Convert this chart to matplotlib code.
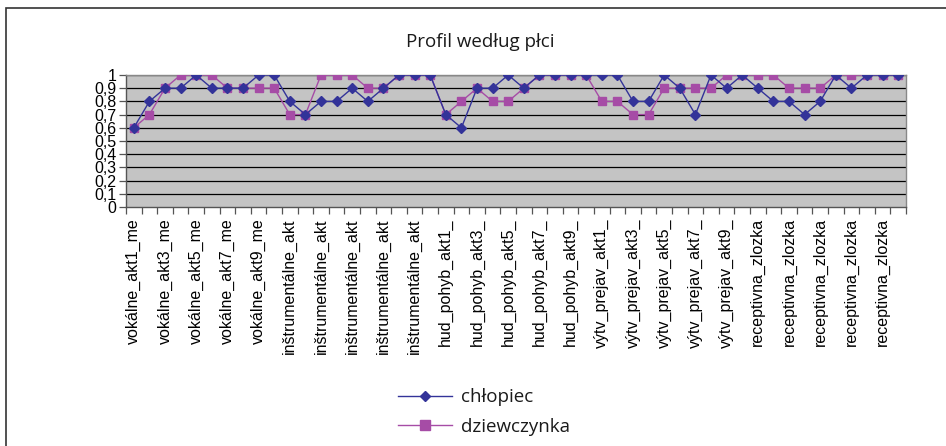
import matplotlib
matplotlib.use("Agg")
import matplotlib.pyplot as plt
from matplotlib.patches import Rectangle
from matplotlib.lines import Line2D
import numpy as np

title = "Profil według płci"
series_names = ["chłopiec", "dziewczynka"]

chlopiec = [0.6, 0.8, 0.9, 0.9, 1.0, 0.9, 0.9, 0.9, 1.0, 1.0,
            0.8, 0.7, 0.8, 0.8, 0.9, 0.8, 0.9, 1.0, 1.0, 1.0,
            0.7, 0.6, 0.9, 0.9, 1.0, 0.9, 1.0, 1.0, 1.0, 1.0,
            1.0, 1.0, 0.8, 0.8, 1.0, 0.9, 0.7, 1.0, 0.9, 1.0,
            0.9, 0.8, 0.8, 0.7, 0.8, 1.0, 0.9, 1.0, 1.0, 1.0]
dziewczynka = [0.6, 0.7, 0.9, 1.0, 1.0, 1.0, 0.9, 0.9, 0.9, 0.9,
               0.7, 0.7, 1.0, 1.0, 1.0, 0.9, 0.9, 1.0, 1.0, 1.0,
               0.7, 0.8, 0.9, 0.8, 0.8, 0.9, 1.0, 1.0, 1.0, 1.0,
               0.8, 0.8, 0.7, 0.7, 0.9, 0.9, 0.9, 0.9, 1.0, 1.0,
               1.0, 1.0, 0.9, 0.9, 0.9, 1.0, 1.0, 1.0, 1.0, 1.0]

tick_labels = ["vokálne_akt1_me", "vokálne_akt3_me", "vokálne_akt5_me", "vokálne_akt7_me", "vokálne_akt9_me",
               "inštrumentálne_akt", "inštrumentálne_akt", "inštrumentálne_akt", "inštrumentálne_akt", "inštrumentálne_akt",
               "hud_pohyb_akt1_", "hud_pohyb_akt3_", "hud_pohyb_akt5_", "hud_pohyb_akt7_", "hud_pohyb_akt9_",
               "výtv_prejav_akt1_", "výtv_prejav_akt3_", "výtv_prejav_akt5_", "výtv_prejav_akt7_", "výtv_prejav_akt9_",
               "receptivna_zlozka", "receptivna_zlozka", "receptivna_zlozka", "receptivna_zlozka", "receptivna_zlozka"]
y_ticks = [0, 0.1, 0.2, 0.3, 0.4, 0.5, 0.6, 0.7, 0.8, 0.9, 1.0]
y_tick_labels = ["0", "0,1", "0,2", "0,3", "0,4", "0,5", "0,6", "0,7", "0,8", "0,9", "1"]

W, H = 946, 446
fig = plt.figure(figsize=(W / 100, H / 100), dpi=100)
fig.patch.set_facecolor("white")

left, right, top, bottom = 126, 906, 75, 207
ax = fig.add_axes([left / W, 1 - bottom / H, (right - left) / W, (bottom - top) / H])
ax.set_facecolor("#C4C4C4")

n = len(chlopiec)
x = np.arange(n)
blue = "#333399"
pink = "#A64CA6"
ax.plot(x, chlopiec, color=blue, lw=1.0, marker="D", markersize=5.0, markeredgecolor=blue,
        markerfacecolor=blue, zorder=4, label=series_names[0])
ax.plot(x, dziewczynka, color=pink, lw=1.0, marker="s", markersize=6.0, markeredgecolor=pink,
        markerfacecolor=pink, zorder=3, label=series_names[1])

ax.set_xlim(-0.5, n - 0.5)
ax.set_ylim(0, 1)
for yv in y_ticks[1:]:
    ax.axhline(yv, color="black", lw=0.9, zorder=1)

tick_font = dict(family="Liberation Sans", size=11.5)
ax.set_yticks(y_ticks)
ax.set_yticklabels(y_tick_labels, **tick_font)
ax.tick_params(axis="y", direction="out", length=5, width=0.9, color="#555555", pad=2)

ax.set_xticks(np.arange(-0.5, n, 1.0), minor=True)
ax.set_xticks(x[::2])
ax.set_xticklabels(tick_labels, rotation=90, va="top", ha="center", **tick_font)
ax.tick_params(axis="x", which="major", length=0, pad=8)
ax.tick_params(axis="x", which="minor", direction="out", length=5, width=0.9, color="#555555")

for s in ["top", "right"]:
    ax.spines[s].set_color("#888888")
    ax.spines[s].set_linewidth(1.0)
for s in ["left", "bottom"]:
    ax.spines[s].set_color("#555555")
    ax.spines[s].set_linewidth(1.0)

fig.text(480 / W, 1 - 42 / H, title, ha="center", va="center",
         fontsize=13.5, family="Open Sans", color="#1a1a1a")

handles = [Line2D([], [], color=blue, lw=1.0, marker="D", markersize=5.5),
           Line2D([], [], color=pink, lw=1.0, marker="s", markersize=6.5)]
fig.legend(handles, series_names, loc="center", bbox_to_anchor=(484 / W, 1 - 412 / H),
           frameon=False, prop=dict(family="Open Sans", size=13.5), handlelength=2.9,
           labelspacing=0.6, handletextpad=0.5, labelcolor="#1a1a1a")

fig.add_artist(Rectangle((6 / W, -0.1), 1.2, 1 - 8 / H + 0.1, transform=fig.transFigure,
                         fill=False, ec="#333333", lw=1.2))

fig.savefig("out.png", dpi=100)
